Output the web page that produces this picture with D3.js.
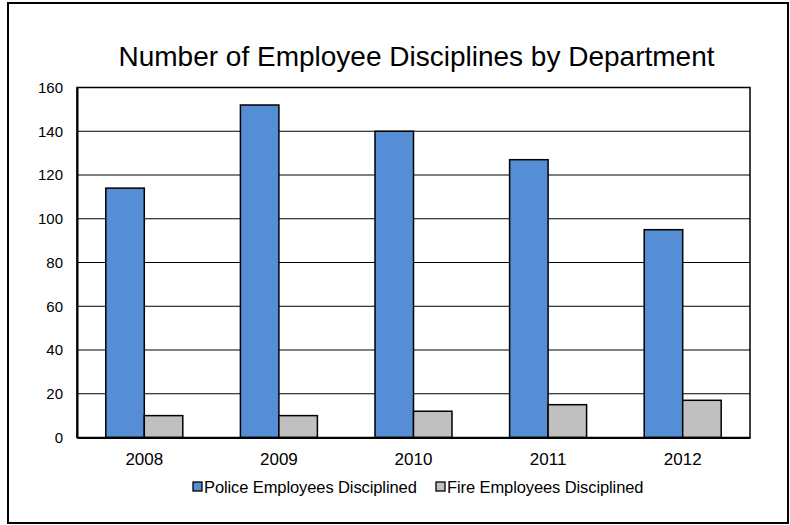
<!DOCTYPE html>
<html><head><meta charset="utf-8">
<script src="https://cdn.jsdelivr.net/npm/d3@7"></script>
<style>body{margin:0;background:#fff;} text{font-family:"Liberation Sans",Arial,sans-serif;}</style>
</head><body>
<svg id="c" width="790" height="525"></svg>
<script>
const years = ["2008","2009","2010","2011","2012"];
const police = [114,152,140,127,95];
const fire = [10,10,12,15,17];
const seriesNames = ["Police Employees Disciplined","Fire Employees Disciplined"];
const seriesColors = ["#558ED5","#C0C0C0"];
const yTicks = [0,20,40,60,80,100,120,140,160];

const svg = d3.select("#c");
svg.append("rect").attr("x",8).attr("y",3).attr("width",780).attr("height",520)
  .attr("fill","#fff").attr("stroke","#000").attr("stroke-width",2);

const L=77,R=750,T=87.5,B=437.5;
const x = d3.scaleBand().domain(years).range([L,R]).paddingInner(0.428).paddingOuter(0.214);
const xs = d3.scaleBand().domain([0,1]).range([0,x.bandwidth()]);
const y = d3.scaleLinear().domain([0,160]).range([B,T]);

svg.append("text").attr("x",416.5).attr("y",66).attr("text-anchor","middle")
  .attr("font-size",28).text("Number of Employee Disciplines by Department");

const g = svg.append("g");
g.selectAll(".grid").data(yTicks.filter(d=>d>0)).join("line")
  .attr("x1",L).attr("x2",R).attr("y1",d=>y(d)).attr("y2",d=>y(d))
  .attr("stroke","#000").attr("stroke-width",1);

const data = years.map((yr,i)=>({yr, vals:[police[i],fire[i]]}));
const grp = g.selectAll(".yr").data(data).join("g").attr("transform",d=>`translate(${x(d.yr)},0)`);
grp.selectAll("rect").data(d=>d.vals.map((v,k)=>({v,k}))).join("rect")
  .attr("x",d=>xs(d.k)).attr("width",xs.bandwidth())
  .attr("y",d=>y(d.v)).attr("height",d=>B-y(d.v))
  .attr("fill",d=>seriesColors[d.k]).attr("stroke","#000").attr("stroke-width",1.5);

g.append("rect").attr("x",L).attr("y",T).attr("width",R-L).attr("height",B-T)
  .attr("fill","none").attr("stroke","#000").attr("stroke-width",1.5);

const ya = d3.axisLeft(y).tickValues(yTicks).tickSize(0).tickPadding(14);
const yg = svg.append("g").attr("transform",`translate(${L},0)`).call(ya);
yg.attr("font-family",null).attr("font-size",null);
yg.select(".domain").attr("stroke","#000").attr("stroke-width",2);
yg.selectAll("text").attr("font-size",15).attr("fill","#000");

const xa = d3.axisBottom(x).tickSize(0).tickPadding(15.4);
const xg = svg.append("g").attr("transform",`translate(0,${B})`).call(xa);
xg.attr("font-family",null).attr("font-size",null);
xg.select(".domain").attr("stroke","#000").attr("stroke-width",2);
xg.selectAll("text").attr("font-size",17).attr("fill","#000");

const lg = svg.append("g");
const lx = [193,436];
seriesNames.forEach((n,i)=>{
  lg.append("rect").attr("x",lx[i]).attr("y",482).attr("width",9).attr("height",9)
    .attr("fill",seriesColors[i]).attr("stroke","#000").attr("stroke-width",1.3);
  lg.append("text").attr("x",lx[i]+11).attr("y",493).attr("font-size",16.5).attr("letter-spacing",-0.1).text(n);
});
</script>
</body></html>
